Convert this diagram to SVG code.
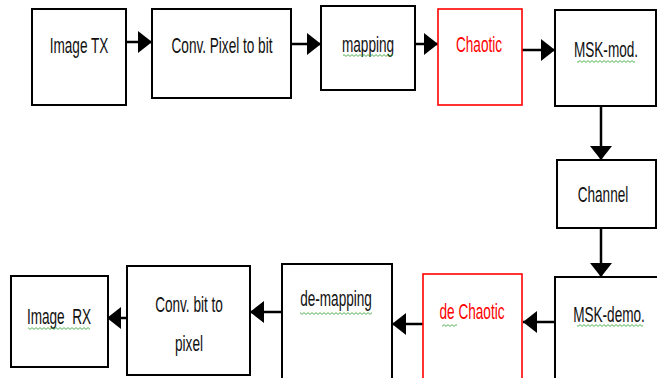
<svg xmlns="http://www.w3.org/2000/svg" width="657" height="378" viewBox="0 0 657 378">
<style>
.box{fill:#fff;stroke:#000;stroke-width:2}
.red{fill:#fff;stroke:#f00;stroke-width:1.6}
.lbl{font-family:"Liberation Sans",Arial,sans-serif;font-size:16px;fill:#111;text-anchor:middle;white-space:pre}
.rl{fill:#f00}
.ln{stroke:#000;stroke-width:2.5;fill:none}
.sq{fill:url(#sq)}
</style>
<defs>
<marker id="ah" markerWidth="14" markerHeight="22" refX="14" refY="11" orient="auto" markerUnits="userSpaceOnUse">
<path d="M0,0 L14,11 L0,22 Z" fill="#000"/>
</marker>
<pattern id="sq" width="4" height="3" patternUnits="userSpaceOnUse">
<path d="M0,0.6 L2,2.4 L4,0.6" stroke="#2a9d2a" stroke-width="0.8" fill="none"/>
</pattern>
</defs>
<g id="connectors">
<line class="ln" x1="126" y1="42" x2="152" y2="42" marker-end="url(#ah)"/>
<line class="ln" x1="291" y1="44" x2="321" y2="44" marker-end="url(#ah)"/>
<line class="ln" x1="415" y1="44" x2="438" y2="44" marker-end="url(#ah)"/>
<line class="ln" x1="522" y1="50" x2="555" y2="50" marker-end="url(#ah)"/>
<line class="ln" x1="601" y1="106" x2="601" y2="160" marker-end="url(#ah)"/>
<line class="ln" x1="601" y1="228" x2="601" y2="277" marker-end="url(#ah)"/>
<line class="ln" x1="555" y1="322" x2="523" y2="322" marker-end="url(#ah)"/>
<line class="ln" x1="423" y1="324" x2="392" y2="324" marker-end="url(#ah)"/>
<line class="ln" x1="282" y1="312" x2="250" y2="312" marker-end="url(#ah)"/>
<line class="ln" x1="127" y1="318" x2="107" y2="318" marker-end="url(#ah)"/>
</g>
<g id="imageTX"><rect class="box" x="32" y="9" width="94" height="96"/><text class="lbl" transform="translate(79,53) scale(0.85,1.35)">Image TX</text></g>
<g id="convPixel"><rect class="box" x="152" y="9" width="139" height="89"/><text class="lbl" transform="translate(222,53) scale(0.85,1.35)">Conv. Pixel to bit</text></g>
<g id="mapping"><rect class="box" x="321" y="6" width="94" height="84"/><text class="lbl" transform="translate(368,52) scale(0.85,1.35)">mapping</text><rect class="sq" x="343" y="54" width="50" height="3"/></g>
<g id="chaotic"><rect class="red" x="438" y="9" width="84" height="96"/><text class="lbl rl" transform="translate(479,52) scale(0.85,1.35)">Chaotic</text></g>
<g id="mskMod"><rect class="box" x="555" y="10" width="101" height="96"/><text class="lbl" transform="translate(606,57) scale(0.85,1.35)">MSK-mod.</text><rect class="sq" x="577" y="60" width="58" height="3"/></g>
<g id="channel"><rect class="box" x="557" y="160" width="99" height="68"/><text class="lbl" transform="translate(603,202) scale(0.85,1.35)">Channel</text></g>
<g id="mskDemo"><rect class="box" x="555" y="277" width="103" height="104"/><text class="lbl" transform="translate(609,322) scale(0.85,1.35)">MSK-demo.</text><rect class="sq" x="577" y="324" width="66" height="3"/></g>
<g id="deChaotic"><rect class="red" x="423" y="274" width="99" height="110"/><text class="lbl rl" transform="translate(472,319) scale(0.85,1.35)">de Chaotic</text><rect class="sq" x="442" y="324" width="15" height="3"/></g>
<g id="deMapping"><rect class="box" x="282" y="264" width="110" height="120"/><text class="lbl" transform="translate(336,306) scale(0.85,1.35)">de-mapping</text><rect class="sq" x="300" y="312" width="72" height="3"/></g>
<g id="convBit"><rect class="box" x="127" y="266" width="123" height="109"/><text class="lbl" transform="translate(189,312) scale(0.85,1.35)">Conv. bit to</text><text class="lbl" transform="translate(189,351) scale(0.85,1.35)">pixel</text></g>
<g id="imageRX"><rect class="box" x="11" y="276" width="97" height="91"/><text class="lbl" transform="translate(59,324) scale(0.85,1.35)">Image  RX</text><rect class="sq" x="28" y="327" width="62" height="3"/></g>
</svg>
